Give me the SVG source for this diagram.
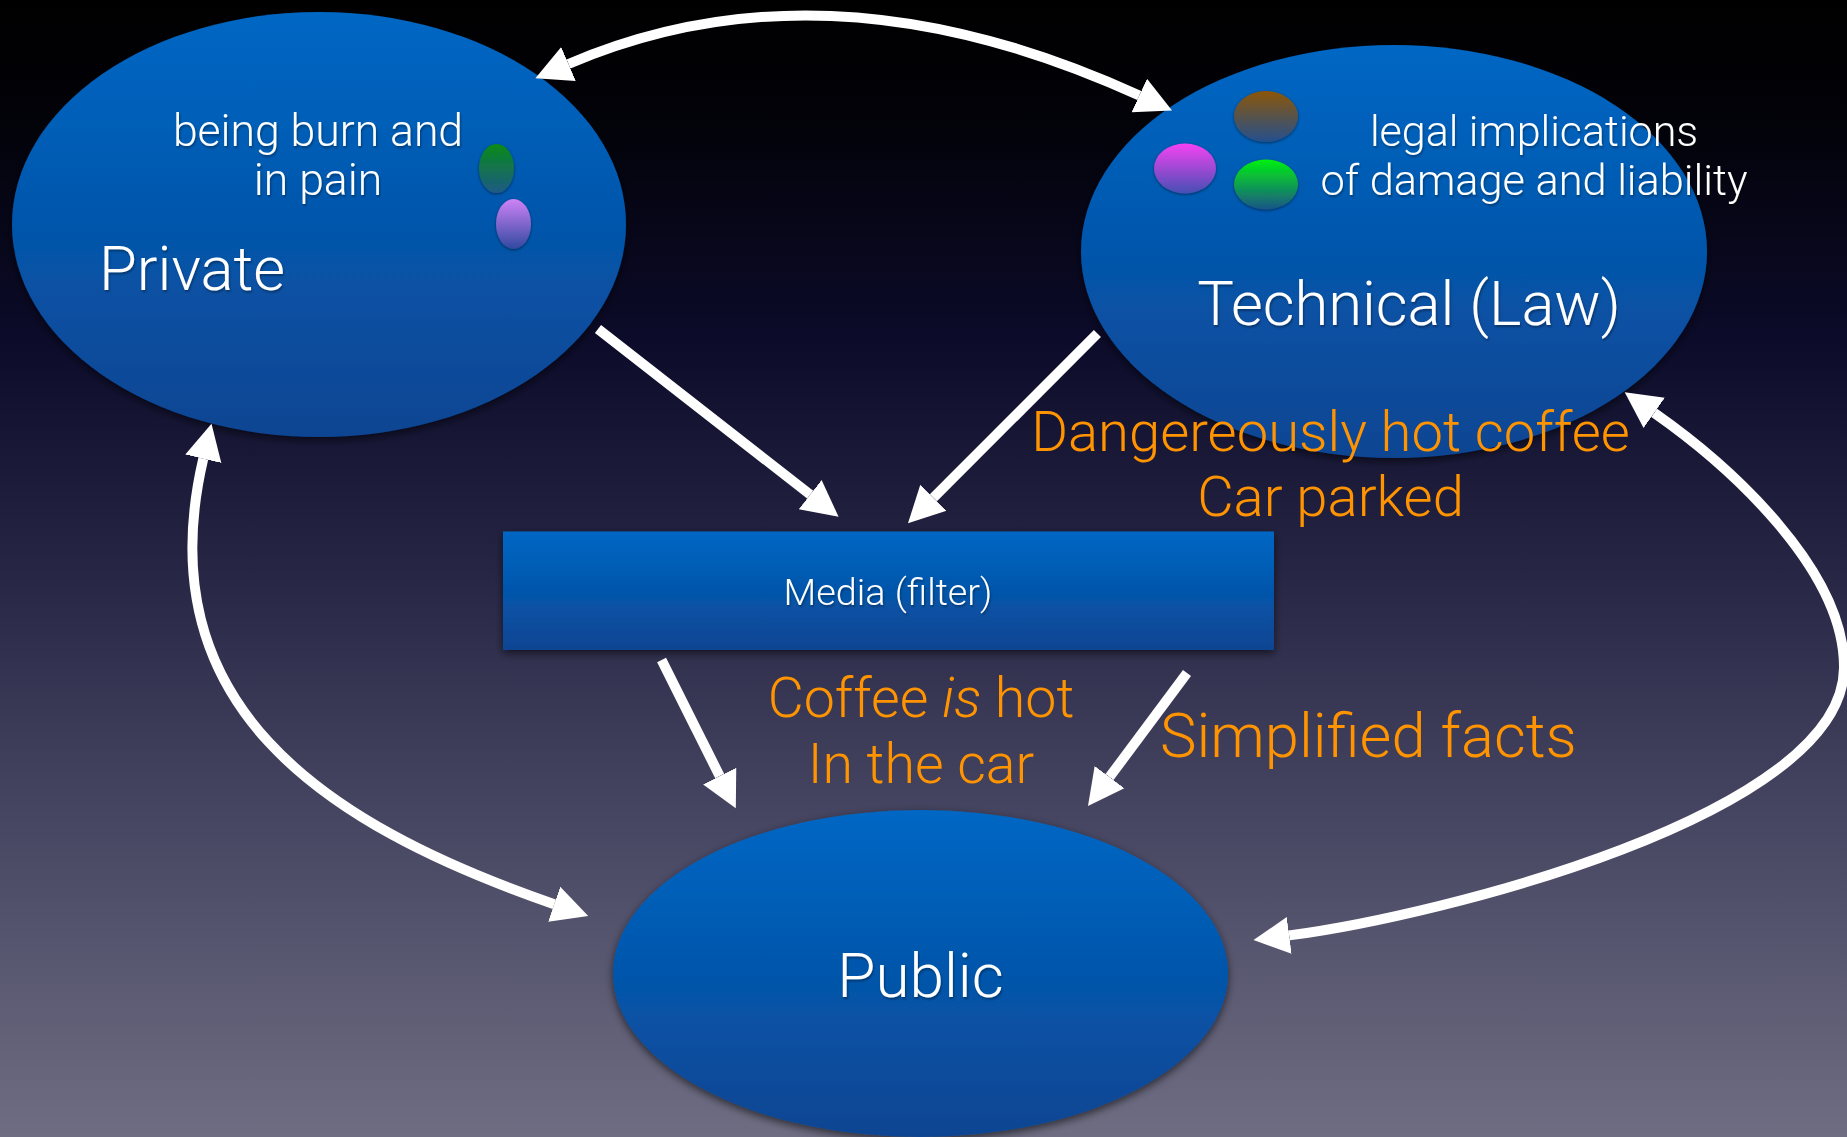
<svg xmlns="http://www.w3.org/2000/svg" width="1847" height="1137" viewBox="0 0 1847 1137">
  <defs>
    <linearGradient id="bg" x1="0" y1="0" x2="0" y2="1">
      <stop offset="0" stop-color="#000000"/>
      <stop offset="0.1" stop-color="#020208"/>
      <stop offset="0.3" stop-color="#0c0b2a"/>
      <stop offset="0.5" stop-color="#262544"/>
      <stop offset="0.72" stop-color="#474662"/>
      <stop offset="1" stop-color="#6e6d82"/>
    </linearGradient>
    <linearGradient id="blue" x1="0" y1="0" x2="0" y2="1">
      <stop offset="0" stop-color="#0067c4"/>
      <stop offset="1" stop-color="#0b4592"/>
    </linearGradient>
    <linearGradient id="ballGreenDark" x1="0" y1="0" x2="0" y2="1">
      <stop offset="0" stop-color="#0a8a18"/>
      <stop offset="1" stop-color="#1d5a86"/>
    </linearGradient>
    <linearGradient id="ballLilac" x1="0" y1="0" x2="0" y2="1">
      <stop offset="0" stop-color="#cf82f6"/>
      <stop offset="1" stop-color="#3049a0"/>
    </linearGradient>
    <linearGradient id="ballBrown" x1="0" y1="0" x2="0" y2="1">
      <stop offset="0" stop-color="#8c5508"/>
      <stop offset="1" stop-color="#24508e"/>
    </linearGradient>
    <linearGradient id="ballMagenta" x1="0" y1="0" x2="0" y2="1">
      <stop offset="0" stop-color="#f542f2"/>
      <stop offset="1" stop-color="#4550b4"/>
    </linearGradient>
    <linearGradient id="ballGreen" x1="0" y1="0" x2="0" y2="1">
      <stop offset="0" stop-color="#00f010"/>
      <stop offset="1" stop-color="#1a5488"/>
    </linearGradient>
    <filter id="shadow" x="-10%" y="-10%" width="120%" height="125%">
      <feDropShadow dx="0" dy="3" stdDeviation="4" flood-color="#000" flood-opacity="0.6"/>
    </filter>
    <filter id="ballShadow" x="-40%" y="-40%" width="180%" height="180%">
      <feDropShadow dx="0" dy="1" stdDeviation="1.5" flood-color="#000" flood-opacity="0.5"/>
    </filter>
    <filter id="textShadow" x="-5%" y="-20%" width="110%" height="150%">
      <feDropShadow dx="1" dy="2" stdDeviation="1.2" flood-color="#000" flood-opacity="0.35"/>
    </filter>
    <marker id="head" markerUnits="userSpaceOnUse" markerWidth="40" markerHeight="40" refX="0" refY="18.5" orient="auto-start-reverse" viewBox="0 0 40 37">
      <path d="M0,0 L36,18.5 L0,37 z" fill="#ffffff"/>
    </marker>
  </defs>
  <style>
    .node { fill: url(#blue); filter: url(#shadow); }
    .ball { filter: url(#ballShadow); }
    .lbl { font-family: Roboto, "Liberation Sans", Arial, sans-serif; font-weight: 300; fill: #ffffff; filter: url(#textShadow); }
    .note { font-family: Roboto, "Liberation Sans", Arial, sans-serif; font-weight: 300; fill: #ff9400; }
    .link { fill: none; stroke: #ffffff; stroke-width: 10; }
    .arrow { marker-end: url(#head); }
    .both { marker-start: url(#head); marker-end: url(#head); }
  </style>

  <rect x="0" y="0" width="1847" height="1137" fill="url(#bg)"/>

  <g id="private">
    <ellipse class="node" cx="319" cy="224.5" rx="307" ry="212.5"/>
    <ellipse class="ball" cx="496.5" cy="168.5" rx="17.5" ry="24.5" fill="url(#ballGreenDark)"/>
    <ellipse class="ball" cx="513.5" cy="224" rx="17.5" ry="25" fill="url(#ballLilac)"/>
    <text class="lbl" x="318" y="146" font-size="44.5" text-anchor="middle">being burn and</text>
    <text class="lbl" x="318" y="195" font-size="44.5" text-anchor="middle">in pain</text>
    <text class="lbl" x="99" y="290" font-size="61.5">Private</text>
  </g>

  <g id="technical">
    <ellipse class="node" cx="1394" cy="251.5" rx="313" ry="206.5"/>
    <ellipse class="ball" cx="1266" cy="116.5" rx="32" ry="25.5" fill="url(#ballBrown)"/>
    <ellipse class="ball" cx="1185" cy="168.5" rx="31" ry="25" fill="url(#ballMagenta)"/>
    <ellipse class="ball" cx="1266" cy="184.5" rx="32" ry="25" fill="url(#ballGreen)"/>
    <text class="lbl" x="1534" y="146" font-size="43" text-anchor="middle">legal implications</text>
    <text class="lbl" x="1534" y="195" font-size="43.3" text-anchor="middle">of damage and liability</text>
    <text class="lbl" x="1409" y="325" font-size="61.5" text-anchor="middle">Technical (Law)</text>
  </g>

  <g id="media">
    <rect class="node" x="503" y="531.5" width="771" height="118.5"/>
    <text class="lbl" x="888" y="605" font-size="37.8" text-anchor="middle">Media (filter)</text>
  </g>

  <g id="public">
    <ellipse class="node" cx="920.5" cy="973.5" rx="307.5" ry="163.5"/>
    <text class="lbl" x="920.5" y="997" font-size="62" text-anchor="middle">Public</text>
  </g>

  <g id="connectors">
    <path class="link both" d="M568.5,64 Q827.5,-47 1139.3,95.5"/>
    <path class="link arrow" d="M598,329 L810.2,494.6"/>
    <path class="link arrow" d="M1097.4,333.5 L933.4,497.8"/>
    <path class="link arrow" d="M661.6,660 L719.7,776.1"/>
    <path class="link arrow" d="M1187,673 L1109.5,777.1"/>
    <path class="link both" d="M203.3,458.7 C146.3,702.2 318,822.7 554.2,904.2"/>
    <path class="link both" d="M1654.2,412.9 C1730,466 1845,570 1844,668 C1843,815 1438,915.9 1289.2,935.4"/>
  </g>

  <g id="labels">
    <text class="note" x="1330.5" y="451" font-size="56.2" text-anchor="middle">Dangereously hot coffee</text>
    <text class="note" x="1330.5" y="516" font-size="56.2" text-anchor="middle">Car parked</text>
    <text class="note" x="921" y="717" font-size="55.5" text-anchor="middle">Coffee <tspan font-style="italic">is</tspan> hot</text>
    <text class="note" x="921" y="783" font-size="55.5" text-anchor="middle">In the car</text>
    <text class="note" x="1160" y="757" font-size="61.5">Simplified facts</text>
  </g>
</svg>
